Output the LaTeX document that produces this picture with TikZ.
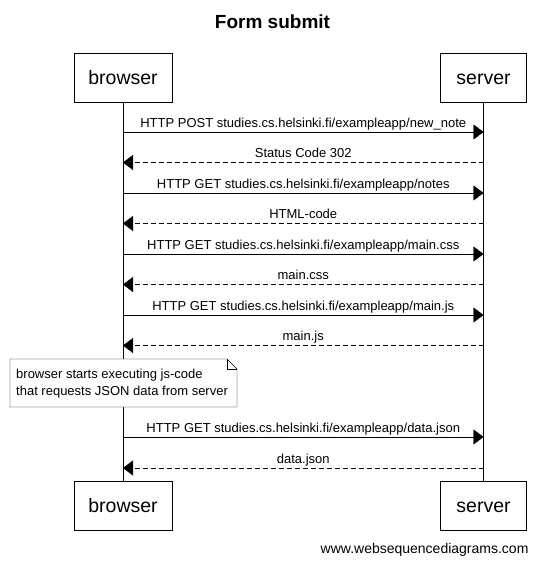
\documentclass[tikz,border=0pt]{standalone}
\usepackage{fontspec}
\setmainfont{Liberation Sans}
\usetikzlibrary{arrows.meta,positioning}
\tikzset{
  actor/.style={draw,minimum height=49pt,inner sep=0pt,text height=14pt,text depth=0pt,font=\fontsize{19.5}{22}\selectfont},
  msg/.style={-{Triangle[length=10pt,width=15pt]}},
  reply/.style={msg,dash pattern=on 5pt off 3pt},
  lbl/.style={font=\fontsize{13}{15}\selectfont,anchor=base,midway,yshift=5pt},
  notetext/.style={align=left,inner sep=0pt,anchor=west,font=\fontsize{13}{17}\selectfont}
}
\begin{document}
\begin{tikzpicture}[x=1pt,y=-1pt]
    \useasboundingbox (0,0) rectangle (541,565);
    \node[font=\bfseries\fontsize{19}{22}\selectfont,anchor=base] (title) at (272.5,28) {Form submit};
    \node[actor,minimum width=98pt] (browsertop) at (123,77.5) {browser};
    \node[actor,minimum width=86pt] (servertop) at (483.5,77.5) {server};
    \node[actor,minimum width=98pt] (browserbot) at (123,505.5) {browser};
    \node[actor,minimum width=86pt] (serverbot) at (483.5,505.5) {server};
    \draw (browsertop) -- (browserbot);
    \draw (servertop) -- (serverbot);
    \foreach \y [count=\i] in {132,162.5,193,223.5,254,284.5,315,345.5,437,468} {
        \coordinate (b\i) at (123,\y);
        \coordinate (s\i) at (483.5,\y);
    }
    \draw[msg] (b1) -- node[lbl] {HTTP POST studies.cs.helsinki.fi/exampleapp/new\_note} (s1);
    \draw[reply] (s2) -- node[lbl] {Status Code 302} (b2);
    \draw[msg] (b3) -- node[lbl] {HTTP GET studies.cs.helsinki.fi/exampleapp/notes} (s3);
    \draw[reply] (s4) -- node[lbl] {HTML-code} (b4);
    \draw[msg] (b5) -- node[lbl] {HTTP GET studies.cs.helsinki.fi/exampleapp/main.css} (s5);
    \draw[reply] (s6) -- node[lbl] {main.css} (b6);
    \draw[msg] (b7) -- node[lbl] {HTTP GET studies.cs.helsinki.fi/exampleapp/main.js} (s7);
    \draw[reply] (s8) -- node[lbl] {main.js} (b8);
    \draw[fill=white] (10,359) -- (227,359) -- (237,369) -- (237,407) -- (10,407) -- cycle;
    \draw (227,359) -- (227,369) -- (237,369);
    \node[notetext] (note) at (16,383.5) {browser starts executing js-code\\that requests JSON data from server};
    \draw[msg] (b9) -- node[lbl] {HTTP GET studies.cs.helsinki.fi/exampleapp/data.json} (s9);
    \draw[reply] (s10) -- node[lbl] {data.json} (b10);
    \node[font=\fontsize{14}{16}\selectfont,anchor=base east] (credit) at (532,553) {www.websequencediagrams.com};
\end{tikzpicture}
\end{document}
